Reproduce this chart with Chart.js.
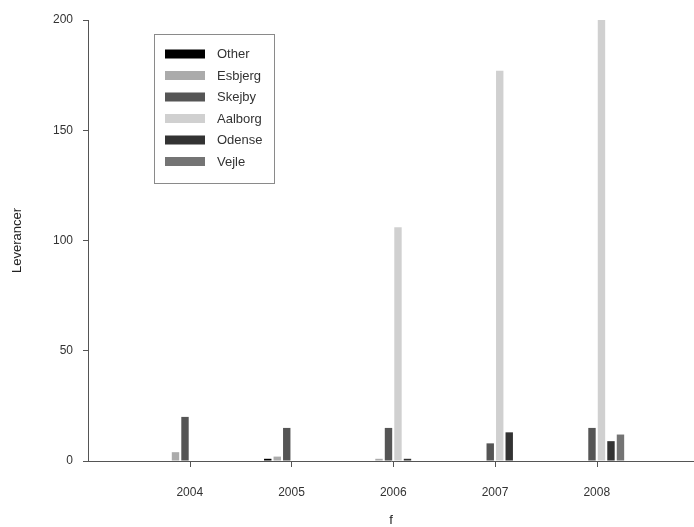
<!DOCTYPE html>
<html>
<head>
<meta charset="utf-8">
<script src="https://cdn.jsdelivr.net/npm/chart.js@4/dist/chart.umd.min.js"></script>
<style>
  html, body { margin: 0; padding: 0; background: #fff; overflow: hidden; }
  #wrap { position: relative; width: 694px; height: 527px; }
</style>
</head>
<body>
<div id="wrap"><canvas id="c"></canvas></div>
<script>
// Deliveries per year and site
const years   = [2004, 2005, 2006, 2007, 2008];
const other   = [0, 1, 0, 0, 0];
const esbjerg = [4, 2, 1, 0, 0];
const skejby  = [20, 15, 15, 8, 15];
const aalborg = [0, 0, 106, 177, 200];
const odense  = [0, 0, 1, 13, 9];
const vejle   = [0, 0, 0, 0, 12];
const yTicks  = [0, 50, 100, 150, 200];

const series = [
  { label: 'Other',   data: other,   color: '#000000' },
  { label: 'Esbjerg', data: esbjerg, color: '#ababab' },
  { label: 'Skejby',  data: skejby,  color: '#555555' },
  { label: 'Aalborg', data: aalborg, color: '#d0d0d0' },
  { label: 'Odense',  data: odense,  color: '#333333' },
  { label: 'Vejle',   data: vejle,   color: '#747474' }
];

const FONT = 'Arial, "Liberation Sans", sans-serif';
const AXIS = '#555555';

// Framed legend drawn inside the plot area, upper left
const boxLegend = {
  id: 'boxLegend',
  afterDraw(chart) {
    const ctx = chart.ctx;
    const x0 = 154.5, y0 = 34.5, w = 120, h = 149;
    ctx.save();
    ctx.fillStyle = '#ffffff';
    ctx.fillRect(x0, y0, w, h);
    ctx.strokeStyle = '#8a8a8a';
    ctx.lineWidth = 1;
    ctx.strokeRect(x0, y0, w, h);
    ctx.font = '13px ' + FONT;
    ctx.textBaseline = 'middle';
    ctx.textAlign = 'left';
    chart.data.datasets.forEach((ds, i) => {
      const cy = 54 + i * 21.5;
      ctx.fillStyle = ds.backgroundColor;
      ctx.fillRect(165, cy - 4.5, 40, 9);
      ctx.fillStyle = '#333333';
      ctx.fillText(ds.label, 217, cy + 0.5);
    });
    ctx.restore();
  }
};

// Outward tick marks under each year on the x axis
const yearTicks = {
  id: 'yearTicks',
  afterDraw(chart) {
    const xs = chart.scales.x;
    const ctx = chart.ctx;
    ctx.save();
    ctx.strokeStyle = AXIS;
    ctx.lineWidth = 1;
    ctx.beginPath();
    years.forEach(v => {
      const px = Math.round(xs.getPixelForValue(v)) + 0.5;
      ctx.moveTo(px, xs.top);
      ctx.lineTo(px, xs.top + 6);
    });
    ctx.stroke();
    ctx.restore();
  }
};

new Chart(document.getElementById('c'), {
  type: 'bar',
  data: {
    labels: years,
    datasets: series.map(s => ({
      label: s.label,
      data: s.data,
      backgroundColor: s.color,
      borderWidth: 0,
      categoryPercentage: 0.56,
      barPercentage: 0.78
    }))
  },
  options: {
    responsive: true,
    maintainAspectRatio: false,
    animation: false,
    layout: { padding: { top: 20, right: 0, bottom: 0, left: 0 } },
    plugins: { legend: { display: false }, tooltip: { enabled: false } },
    scales: {
      x: {
        type: 'linear',
        offset: false,
        min: 2003,
        max: 2008.956,
        afterBuildTicks(scale) {
          scale.ticks = years.map(v => ({ value: v }));
        },
        afterFit(scale) { scale.height = 66; },
        ticks: {
          autoSkip: false,
          maxRotation: 0,
          padding: 16,
          color: '#333333',
          font: { family: FONT, size: 12 },
          callback: v => String(v)
        },
        grid: { display: false, offset: false },
        border: { display: true, color: AXIS, width: 1 },
        title: {
          display: true,
          text: 'f',
          color: '#222222',
          font: { family: FONT, size: 13 },
          padding: { top: 0, bottom: -1 }
        }
      },
      y: {
        min: 0,
        max: 200,
        afterBuildTicks(scale) {
          scale.ticks = yTicks.map(v => ({ value: v }));
        },
        afterFit(scale) { scale.width = 88; },
        ticks: {
          padding: 10,
          color: '#333333',
          font: { family: FONT, size: 12 }
        },
        grid: { drawOnChartArea: false, drawTicks: true, tickLength: 5, color: AXIS },
        border: { display: true, color: AXIS, width: 1 },
        title: {
          display: true,
          text: 'Leverancer',
          color: '#222222',
          font: { family: FONT, size: 13 },
          padding: { top: 10, bottom: 0 }
        }
      }
    }
  },
  plugins: [boxLegend, yearTicks]
});
</script>
</body>
</html>
